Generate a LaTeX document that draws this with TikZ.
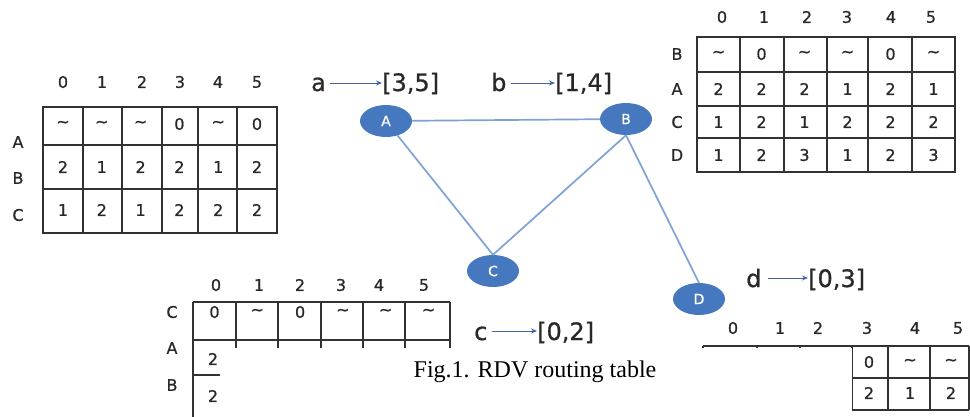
\documentclass[tikz,border=0pt]{standalone}
\usepackage{fontspec}
\setmainfont{DejaVu Sans}
\newfontfamily\tabfont[FakeBold=0.8]{DejaVu Sans}
\newfontfamily\capfont{Liberation Serif}
\usetikzlibrary{shapes.geometric,arrows.meta}
\definecolor{nodeblue}{RGB}{70,120,192}
\definecolor{edgeblue}{RGB}{125,162,212}
\definecolor{arrowblue}{RGB}{70,100,165}
\definecolor{gridgray}{RGB}{50,50,50}
\definecolor{txt}{RGB}{40,40,40}
\newcommand\mytilde{\textasciitilde}
\begin{document}
\begin{tikzpicture}[x=1pt,y=-1pt,
  cell/.style={font=\tabfont\fontsize{16}{16}\selectfont, text=txt, inner sep=0pt, anchor=center},
  grid/.style={draw=gridgray, line width=1.7pt},
  vert/.style={ellipse, fill=nodeblue, minimum width=52pt, minimum height=32pt, inner sep=0pt, text=white, font=\tabfont\fontsize{14}{14}\selectfont},
  edge/.style={draw=edgeblue, line width=1.7pt},
  lbl/.style={font=\tabfont\fontsize{24}{24}\selectfont, text=txt, inner sep=0pt, anchor=base west},
  arr/.style={draw=arrowblue, line width=0.9pt, -{Stealth[length=6pt,width=5pt]}},
]
\useasboundingbox (0,0) rectangle (970,416);

% ---------- left table (node A) ----------
\draw[grid] (43,107) rectangle (277,233);
\foreach \x in {83,122,162,198,237} \draw[grid] (\x,107) -- (\x,233);
\foreach \y in {145,189} \draw[grid] (43,\y) -- (277,\y);
\foreach \x/\t in {63/0,102/1,142/2,180/3,218/4,257/5}
  \node[cell] (LH\t) at (\x,82) {\t};
\node[cell] (LRA) at (18,142) {A};
\node[cell] (LRB) at (18,178) {B};
\node[cell] (LRC) at (18,215) {C};
\foreach \r/\y/\vals in {1/124/{\mytilde,\mytilde,\mytilde,0,\mytilde,0},2/167/{2,1,2,2,1,2},3/210/{1,2,1,2,2,2}}
  \foreach \v [count=\c] in \vals
    \node[cell] (L-\r-\c) at ({63+(\c-1)*38.8},\y) {\v};

% ---------- right top table (node B) ----------
\draw[grid] (697,37) rectangle (955,172);
\foreach \x in {740,784,827,868,912} \draw[grid] (\x,37) -- (\x,172);
\foreach \y in {72,106,138} \draw[grid] (697,\y) -- (955,\y);
\foreach \x/\t in {722/0,764/1,807/2,847/3,891/4,931/5}
  \node[cell] (RH\t) at (\x,17) {\t};
\node[cell] (RRB) at (677,54) {B};
\node[cell] (RRA) at (677,89) {A};
\node[cell] (RRC) at (677,122) {C};
\node[cell] (RRD) at (677,155) {D};
\foreach \r/\y/\vals in {1/54/{\mytilde,0,\mytilde,\mytilde,0,\mytilde},2/89/{2,2,2,1,2,1},3/122/{1,2,1,2,2,2},4/155/{1,2,3,1,2,3}}
  \foreach \v [count=\c] in \vals
    \node[cell] (R-\r-\c) at ({718.5+(\c-1)*43},\y) {\v};

% ---------- bottom left table (node C) ----------
\draw[grid] (193,302) -- (450,302);
\foreach \y in {340,375} \draw[grid] (193,\y) -- (450,\y);
\foreach \x in {193,236,278,321,363,405,450} \draw[grid] (\x,302) -- (\x,417);
\foreach \x/\t in {216/0,259/1,300/2,341/3,379/4,424/5}
  \node[cell] (CH\t) at (\x,285) {\t};
\node[cell] (CRC) at (172,312) {C};
\node[cell] (CRA) at (172,348) {A};
\node[cell] (CRB) at (172,385) {B};
\foreach \v [count=\c] in {0,\mytilde,0,\mytilde,\mytilde,\mytilde}
  \node[cell] (C-1-\c) at ({214.5+(\c-1)*42.8},312) {\v};
\node[cell] (C-2-1) at (213,359) {2};
\node[cell] (C-3-1) at (213,396) {2};

% ---------- bottom right table (node D) ----------
\draw[grid] (703,346) -- (969,346);
\foreach \y in {378,410} \draw[grid] (703,\y) -- (969,\y);
\foreach \x in {703,757,800,852,888,930,969} \draw[grid] (\x,346) -- (\x,410);
\foreach \x/\t in {733/0,780/1,818/2,867/3,915/4,958/5}
  \node[cell] (DH\t) at (\x,328) {\t};
\node[cell] (D-1-4) at (869,362) {0};
\node[cell] (D-1-5) at (910,362) {\mytilde};
\node[cell] (D-1-6) at (951,362) {\mytilde};
\node[cell] (D-2-4) at (869,393) {2};
\node[cell] (D-2-5) at (910,393) {1};
\node[cell] (D-2-6) at (951,393) {2};

% ---------- caption box ----------
\fill[white] (220,348) rectangle (852,417);
\node[font=\capfont\fontsize{24}{24}\selectfont, inner sep=0pt, anchor=base] (cap) at (535,377) {Fig.1. RDV routing table};

% ---------- graph ----------
\node[vert] (A) at (386,121) {A};
\node[vert] (B) at (626,119) {B};
\node[vert] (C) at (493,271) {C};
\node[vert] (D) at (699,299) {D};
\draw[edge] (A) -- (B);
\draw[edge] (A) -- (C.north);
\draw[edge] (B.south) -- (C.north);
\draw[edge] (B.south) -- (D.north);

% ---------- labels ----------
\node[lbl] (la) at (311,91) {a};
\node[lbl] (va) at (382,91) {[3,5]};
\draw[arr] (la.base east |- 0,83) ++(4,0) -- (va.base west |- 0,83);
\node[lbl] (lb) at (491,91) {b};
\node[lbl] (vb) at (555,91) {[1,4]};
\draw[arr] (lb.base east |- 0,83) ++(4,0) -- (vb.base west |- 0,83);
\node[lbl] (lc) at (474,340) {c};
\node[lbl] (vc) at (537,340) {[0,2]};
\draw[arr] (lc.base east |- 0,331) ++(4,0) -- (vc.base west |- 0,331);
\node[lbl] (ld) at (746,287) {d};
\node[lbl] (vd) at (808,287) {[0,3]};
\draw[arr] (ld.base east |- 0,278) ++(6,0) -- (vd.base west |- 0,278);
\end{tikzpicture}
\end{document}
